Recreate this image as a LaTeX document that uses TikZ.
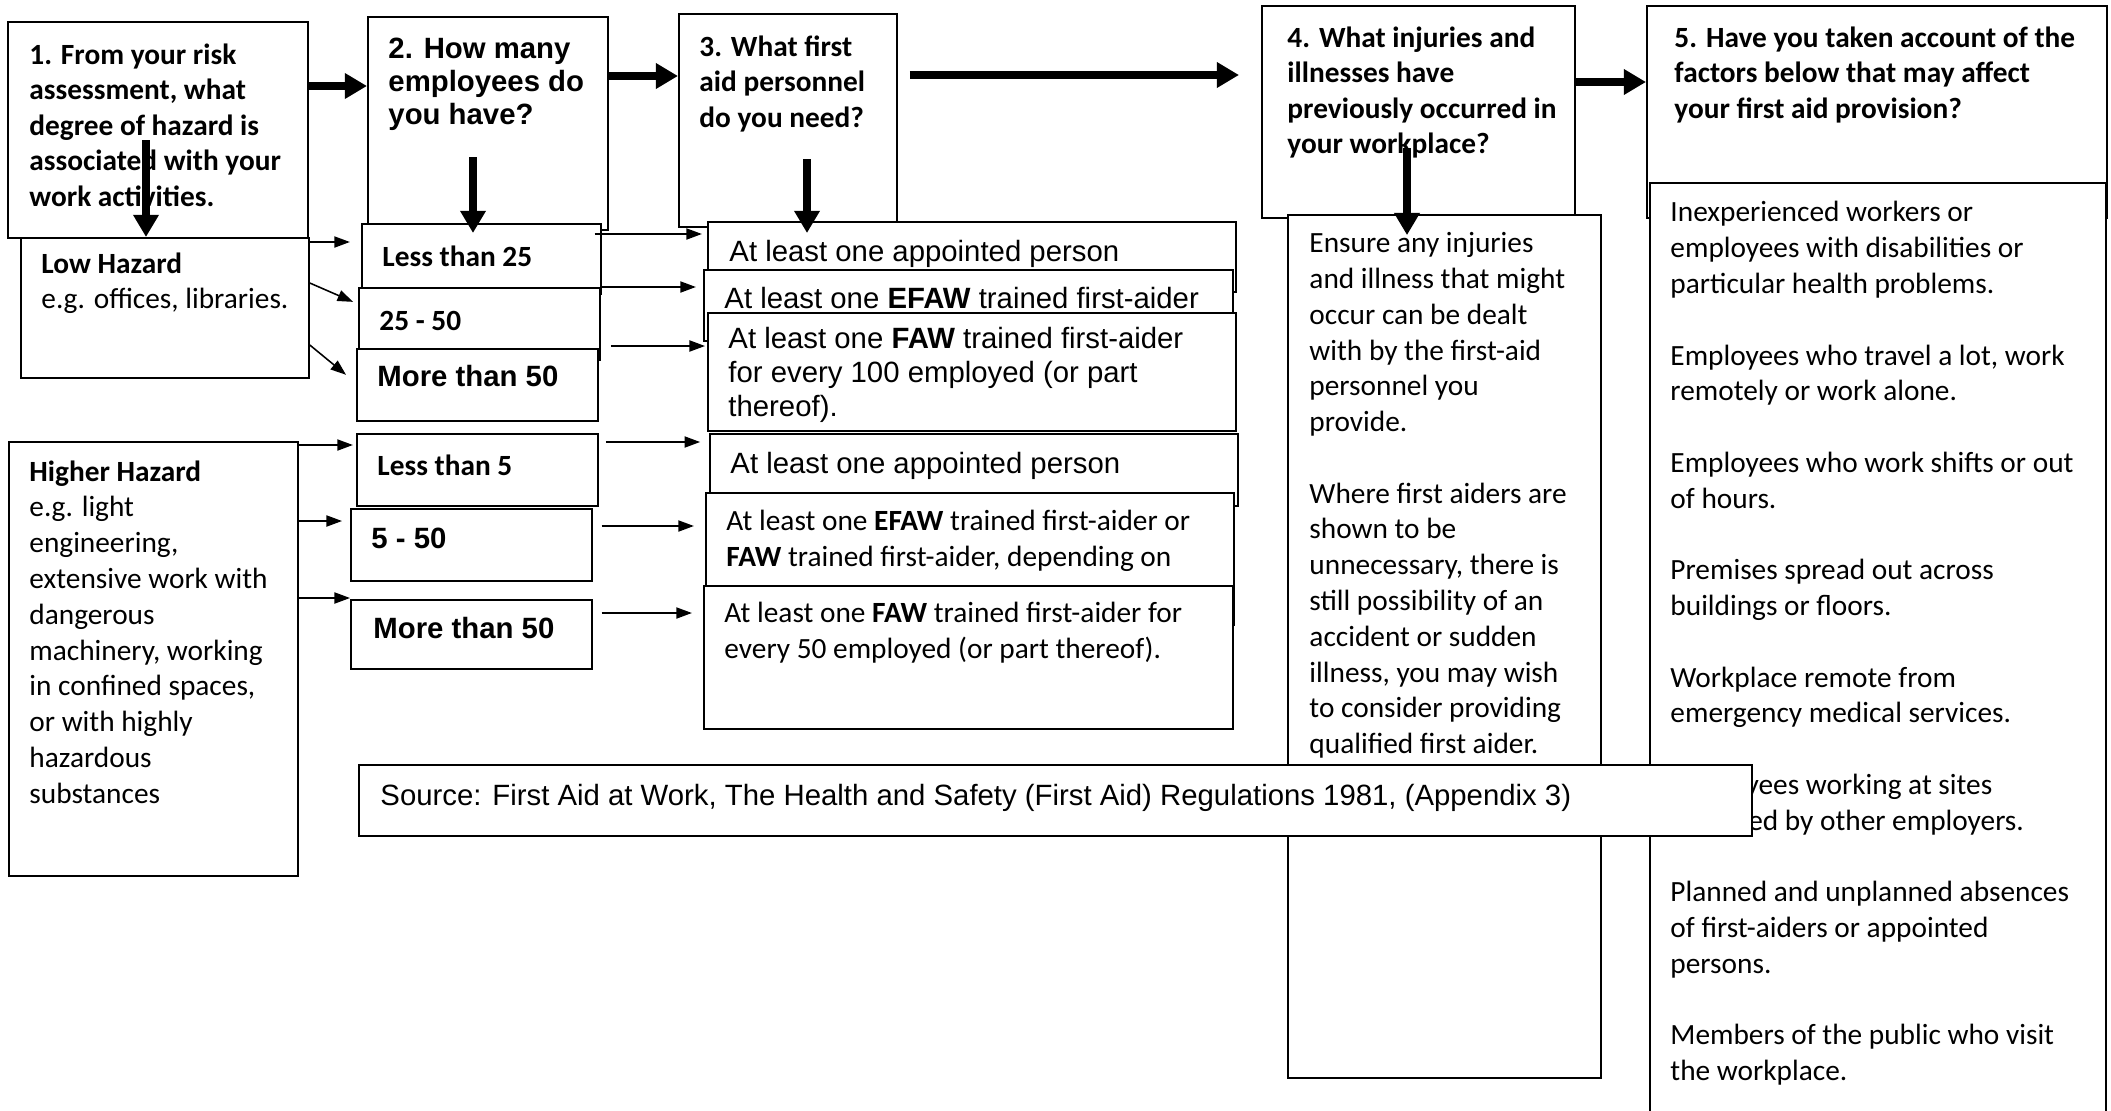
\documentclass[tikz,border=0pt]{standalone}
\usepackage{fontspec}
\setmainfont{Carlito}
\newfontfamily\arialfont{Liberation Sans}
\usetikzlibrary{arrows.meta}
\tikzset{
	panel/.style 2 args={draw=black, line width=0.8pt, fill=white, anchor=north west, inner sep=0pt, minimum width=#1*0.45pt, minimum height=#2*0.45pt},
	firstline/.style={anchor=north west, inner sep=0pt, align=left, execute at begin node={\rule{0pt}{11pt}}},
	cal/.style={firstline, yshift=7.6pt, font=\fontsize{13.2}{16.1}\selectfont},
	ari/.style={firstline, yshift=8.8pt, font=\arialfont\fontsize{13.2}{15.3}\selectfont},
	bigarrow/.style={-{Triangle[length=10pt,width=11pt]}, line width=3.2pt},
	smallarrow/.style={-{Triangle[length=7pt,width=5pt]}, line width=0.7pt}
}
\begin{document}
\begin{tikzpicture}[x=0.45pt, y=-0.45pt]
	\useasboundingbox (0,0) rectangle (2111,1110);
	\fill[white] (0,0) rectangle (2111,1110);
	% hazard
	\node[panel={300}{216}] (q1) at (7,21) {};
	\node[cal, font=\bfseries\fontsize{13.2}{16}\selectfont] (q1t) at (29,60) {1. From your risk\\assessment, what\\degree of hazard is\\associated with your\\work activities.};
	\node[panel={288}{140}] (lh) at (20,237) {};
	\node[cal] (lht) at (41,269) {\textbf{Low Hazard}\\e.g. offices, libraries.};
	\node[panel={289}{434}] (hh) at (8,441) {};
	\node[cal] (hht) at (29,477) {\textbf{Higher Hazard}\\e.g. light\\engineering,\\extensive work with\\dangerous\\machinery, working\\in confined spaces,\\or with highly\\hazardous\\substances};
	% employees
	\node[panel={240}{213}] (q2) at (367,16) {};
	\node[ari, font=\arialfont\bfseries\fontsize{13.2}{14.9}\selectfont] (q2t) at (388,57) {2. How many\\employees do\\you have?};
	\node[panel={239}{70}] (n1) at (361,223) {};
	\node[cal] (n1t) at (382,258) {\textbf{Less than 25}};
	\node[panel={241}{72}] (n2) at (358,287) {};
	\node[cal] (n2t) at (379,322) {\textbf{25 - 50}};
	\node[panel={241}{72}] (n3) at (356,348) {};
	\node[ari] (n3t) at (377,381) {\textbf{More than 50}};
	\node[panel={241}{72}] (n4) at (356,433) {};
	\node[cal] (n4t) at (377,467) {\textbf{Less than 5}};
	\node[panel={241}{72}] (n5) at (350,508) {};
	\node[ari] (n5t) at (371,543) {\textbf{5 - 50}};
	\node[panel={241}{69}] (n6) at (350,599) {};
	\node[ari] (n6t) at (373,633) {\textbf{More than 50}};
	% personnel
	\node[panel={218}{213}] (q3) at (678,13) {};
	\node[cal, font=\bfseries\fontsize{13.2}{16}\selectfont] (q3t) at (699,52) {3. What first\\aid personnel\\do you need?};
	\node[panel={528}{70}] (p1) at (707,221) {};
	\node[ari] (p1t) at (729,256) {At least one appointed person};
	\node[panel={529}{71}] (p2) at (703,269) {};
	\node[ari] (p2t) at (724,303) {At least one \textbf{EFAW} trained first-aider};
	\node[panel={528}{118}] (p3) at (707,312) {};
	\node[ari] (p3t) at (728,346) {At least one \textbf{FAW} trained first-aider\\for every 100 employed (or part\\thereof).};
	\node[panel={528}{72}] (p4) at (709,433) {};
	\node[ari] (p4t) at (730,468) {At least one appointed person};
	\node[panel={528}{132}] (p5) at (705,492) {};
	\node[cal] (p5t) at (726,527) {At least one \textbf{EFAW} trained first-aider or\\\textbf{FAW} trained first-aider, depending on};
	\node[panel={529}{143}] (p6) at (703,585) {};
	\node[cal] (p6t) at (724,619) {At least one \textbf{FAW} trained first-aider for\\every 50 employed (or part thereof).};
	% injuries
	\node[panel={313}{212}] (q4) at (1261,5) {};
	\node[cal, font=\bfseries\fontsize{13.2}{16}\selectfont] (q4t) at (1287,43) {4. What injuries and\\illnesses have\\previously occurred in\\your workplace?};
	\node[panel={313}{863}] (f4) at (1287,214) {};
	\node[cal] (f4t) at (1309,249) {Ensure any injuries\\and illness that might\\occur can be dealt\\with by the first-aid\\personnel you\\provide.\\[16.1pt]Where first aiders are\\shown to be\\unnecessary, there is\\still possibility of an\\accident or sudden\\illness, you may wish\\to consider providing\\qualified first aider.};
	% factors
	\node[panel={460}{212}] (q5) at (1646,5) {};
	\node[cal, font=\bfseries\fontsize{13.2}{16}\selectfont] (q5t) at (1674,43) {5. Have you taken account of the\\factors below that may affect\\your first aid provision?};
	\node[panel={456}{935}] (f5) at (1649,182) {};
	\node[cal] (f5t) at (1670,218) {Inexperienced workers or\\employees with disabilities or\\particular health problems.\\[16.1pt]Employees who travel a lot, work\\remotely or work alone.\\[16.1pt]Employees who work shifts or out\\of hours.\\[16.1pt]Premises spread out across\\buildings or floors.\\[16.1pt]Workplace remote from\\emergency medical services.\\[16.1pt]Employees working at sites\\occupied by other employers.\\[16.1pt]Planned and unplanned absences\\of first-aiders or appointed\\persons.\\[16.1pt]Members of the public who visit\\the workplace.};
	% source
	\node[panel={1393}{71}] (src) at (358,764) {};
	\node[ari] (srct) at (380,800) {Source: First Aid at Work, The Health and Safety (First Aid) Regulations 1981, (Appendix 3)};
	% thick arrows
	\draw[bigarrow] (q1.east |- 0,86) -- (q2.west |- 0,86);
	\draw[bigarrow] (q2.east |- 0,76) -- (q3.west |- 0,76);
	\draw[bigarrow, shorten <=5.4pt, shorten >=9.9pt] (q3.east |- 0,75) -- (q4.west |- 0,75);
	\draw[bigarrow] (q4.east |- 0,82) -- (q5.west |- 0,82);
	\coordinate (a1) at (146,140);
	\coordinate (a2) at (473,157);
	\coordinate (a3) at (807,159);
	\coordinate (a4) at (1407,148);
	\draw[bigarrow] (a1) -- (a1 |- lh.north);
	\draw[bigarrow, shorten >=-4.5pt] (a2) -- (a2 |- n1.north);
	\draw[bigarrow, shorten >=-5.4pt] (a3) -- (a3 |- p1.north);
	\draw[bigarrow, shorten >=-9.5pt] (a4) -- (a4 |- f4.north);
	% thin arrows
	\draw[smallarrow, shorten >=5pt] (lh.east |- 0,242) -- (n1.west |- 0,242);
	\draw[smallarrow, shorten >=2.4pt] (lh.east |- 0,283) -- (n2.west |- 0,304);
	\draw[smallarrow, shorten >=5.8pt] (lh.east |- 0,345) -- (n3.west |- 0,383);
	\draw[smallarrow, shorten >=1.4pt] (hh.east |- 0,445) -- (n4.west |- 0,445);
	\draw[smallarrow, shorten >=3.6pt] (hh.east |- 0,521) -- (n5.west |- 0,521);
	\draw[smallarrow] (hh.east |- 0,598) -- (n6.west |- 0,598);
	\draw[smallarrow, shorten <=-3.2pt, shorten >=2.3pt] (n1.east |- 0,234) -- (p1.west |- 0,234);
	\draw[smallarrow, shorten >=3.2pt] (n2.east |- 0,287) -- (p2.west |- 0,287);
	\draw[smallarrow, shorten <=5.4pt, shorten >=0.9pt] (n3.east |- 0,346) -- (p3.west |- 0,346);
	\draw[smallarrow, shorten <=3.2pt, shorten >=4pt] (n4.east |- 0,442) -- (p4.west |- 0,442);
	\draw[smallarrow, shorten <=4pt, shorten >=5pt] (n5.east |- 0,526) -- (p5.west |- 0,526);
	\draw[smallarrow, shorten <=4pt, shorten >=5pt] (n6.east |- 0,613) -- (p6.west |- 0,613);
\end{tikzpicture}
\end{document}
